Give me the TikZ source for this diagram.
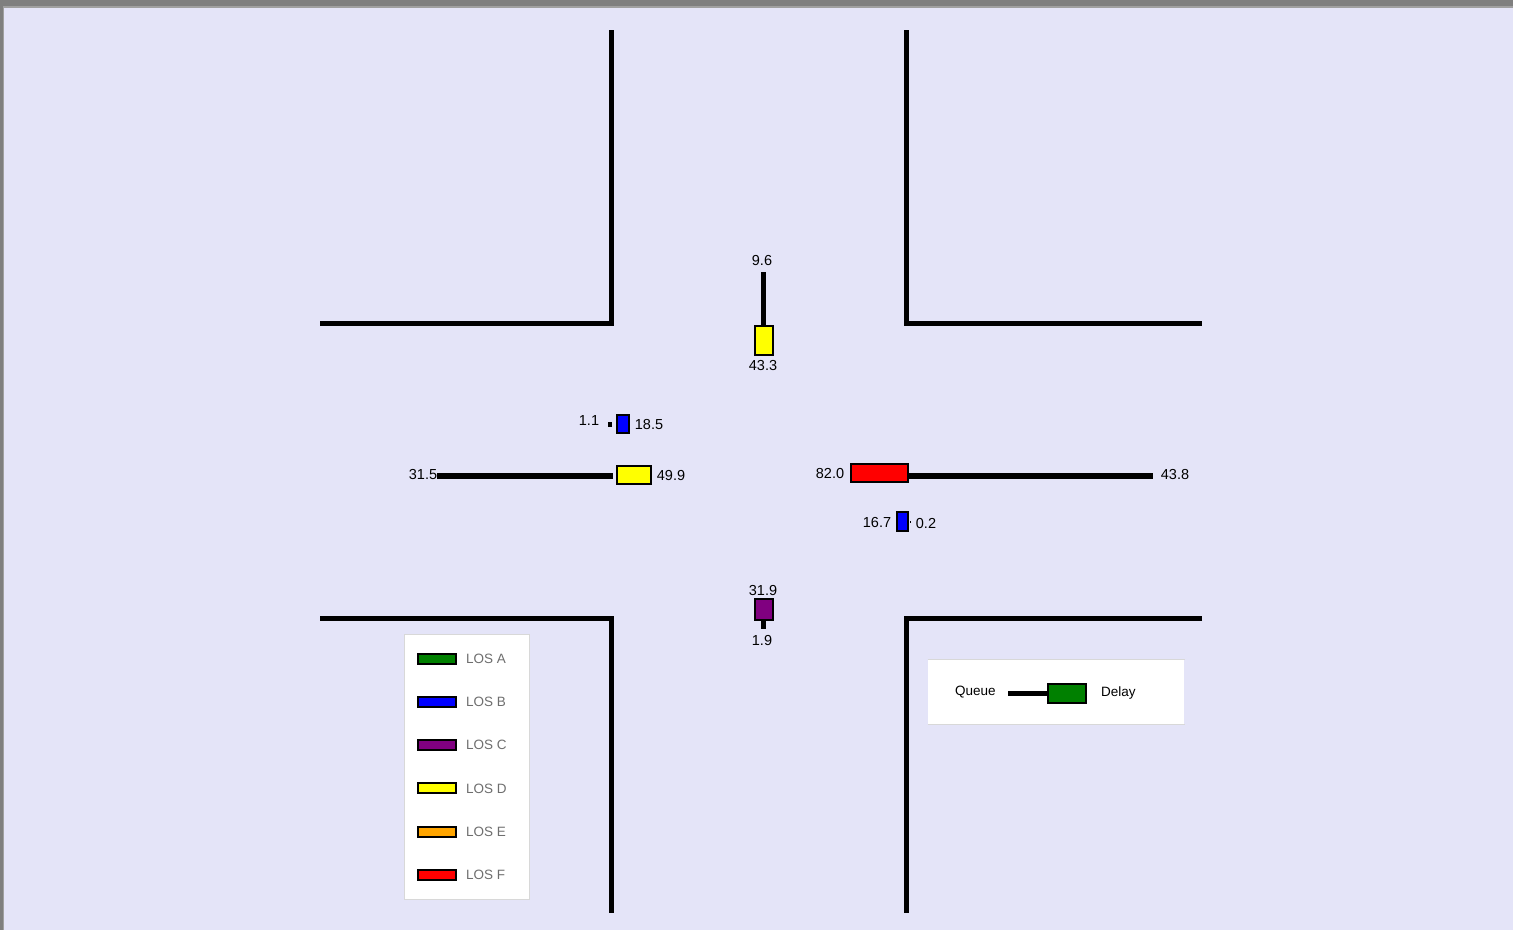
\documentclass[tikz,border=0pt]{standalone}
\usepackage{fontspec}
\setmainfont{Liberation Sans}
\definecolor{bgc}{HTML}{E4E4F8}
\definecolor{frame}{HTML}{7F7F7F}
\definecolor{frameb}{HTML}{A0A0A0}
\definecolor{losA}{HTML}{008000}
\definecolor{losB}{HTML}{0000FF}
\definecolor{losC}{HTML}{800080}
\definecolor{losD}{HTML}{FFFF00}
\definecolor{losE}{HTML}{FFA500}
\definecolor{losF}{HTML}{FF0000}
\definecolor{legtxt}{HTML}{6E6E6E}
\definecolor{legbd}{HTML}{D8D8D8}
\begin{document}
\begin{tikzpicture}[x=1pt,y=-1pt,
  road/.style={line width=5pt},
  queue/.style={line width=5.5pt},
  delaybox/.style={draw=black,line width=2pt,inner sep=0pt,rectangle},
  num/.style={inner sep=0pt,font=\fontsize{14.5}{16}\selectfont},
  legsw/.style={draw=black,line width=2pt,inner sep=0pt,minimum width=38pt,minimum height=10pt},
  legtext/.style={inner sep=0pt,anchor=west,text=legtxt,font=\fontsize{13.5}{15}\selectfont},
  legbox/.style={fill=white,draw=legbd,line width=1pt}]
\useasboundingbox (0,0) rectangle (1513,930);
% background and frame
\fill[frame] (0,0) rectangle (1513,930);
\fill[frameb] (3,6) rectangle (1513,930);
\fill[bgc] (4,8) rectangle (1513,930);
% road edges
\draw[road] (611,30) -- (611,323) -- (320,323);
\draw[road] (906,30) -- (906,323) -- (1202,323);
\draw[road] (320,618) -- (611,618) -- (611,913);
\draw[road] (1202,618) -- (906,618) -- (906,913);
% north approach
\node[delaybox,fill=losD,minimum width=18pt,minimum height=29pt] (nb) at (764,340.5) {};
\coordinate (nq) at (763.5,272);
\draw[queue] (nb.north -| nq) -- (nq);
\node[num] (nql) at (762,261) {9.6};
\node[num] (ndl) at (763,366) {43.3};
% south approach
\node[delaybox,fill=losC,minimum width=18pt,minimum height=21pt] (sb) at (764,609.5) {};
\coordinate (sq) at (763.5,629);
\draw[queue,line width=5pt] (sb.south -| sq) -- (sq);
\node[num] (sdl) at (763,590) {31.9};
\node[num] (sql) at (762,640) {1.9};
% west approach left turn
\node[delaybox,fill=losB,minimum width=12pt,minimum height=18pt] (wlb) at (623,424) {};
\coordinate (wlq) at (608,424.5);
\draw[line width=5pt,shorten <=4pt] (wlb.west |- wlq) -- (wlq);
\node[num] (wlql) at (589,421) {1.1};
\node[num] (wldl) at (649,424) {18.5};
% west approach through
\node[delaybox,fill=losD,minimum width=34pt,minimum height=18pt] (wtb) at (634,475) {};
\coordinate (wtq) at (437,476);
\draw[queue,shorten <=3pt] (wtb.west |- wtq) -- (wtq);
\node[num] (wtql) at (423,474) {31.5};
\node[num] (wtdl) at (671,475) {49.9};
% east approach through
\node[delaybox,fill=losF,minimum width=57pt,minimum height=18pt] (etb) at (879,473) {};
\coordinate (etq) at (1153,476);
\draw[queue] (etb.east |- etq) -- (etq);
\node[num] (etdl) at (830,473) {82.0};
\node[num] (etql) at (1175,474) {43.8};
% east approach left turn
\node[delaybox,fill=losB,minimum width=11pt,minimum height=19pt] (elb) at (902.5,521.5) {};
\coordinate (elq) at (911,522);
\draw[line width=2.5pt,shorten <=1pt] (elb.east |- elq) -- (elq);
\node[num] (eldl) at (877,522) {16.7};
\node[num] (elql) at (926,523) {0.2};
% LOS legend
\node[legbox,minimum width=125pt,minimum height=265pt,inner sep=0pt] (leg) at (466.5,766.5) {};
\node[legsw,fill=losA] (sa) at (436.5,658.5) {};
\node[legtext] (ta) at (466,658.5) {LOS A};
\node[legsw,fill=losB] (sbb) at (436.5,701.8) {};
\node[legtext] (tb) at (466,701.8) {LOS B};
\node[legsw,fill=losC] (sc) at (436.5,745.1) {};
\node[legtext] (tc) at (466,745.1) {LOS C};
\node[legsw,fill=losD] (sd) at (436.5,788.4) {};
\node[legtext] (td) at (466,788.4) {LOS D};
\node[legsw,fill=losE] (se) at (436.5,831.7) {};
\node[legtext] (te) at (466,831.7) {LOS E};
\node[legsw,fill=losF] (sf) at (436.5,875) {};
\node[legtext] (tf) at (466,875) {LOS F};
% queue/delay legend
\node[legbox,draw=none,minimum width=256pt,minimum height=64pt,inner sep=0pt] (leg2) at (1056,692) {};
\draw[legbd,line width=1pt] (leg2.north west) -- (leg2.north east);
\draw[legbd,line width=1pt] (leg2.south west) -- (leg2.south east);
\node[inner sep=0pt,anchor=west,font=\fontsize{13.5}{15}\selectfont] (lq) at (955,692.5) {Queue};
\node[delaybox,fill=losA,minimum width=38pt,minimum height=19pt] (lb) at (1066.5,693.5) {};
\coordinate (lqe) at (1008,693.5);
\draw[queue] (lb.west) -- (lqe);
\node[inner sep=0pt,anchor=west,font=\fontsize{13.5}{15}\selectfont] (ld) at (1101,692.5) {Delay};
\end{tikzpicture}
\end{document}
